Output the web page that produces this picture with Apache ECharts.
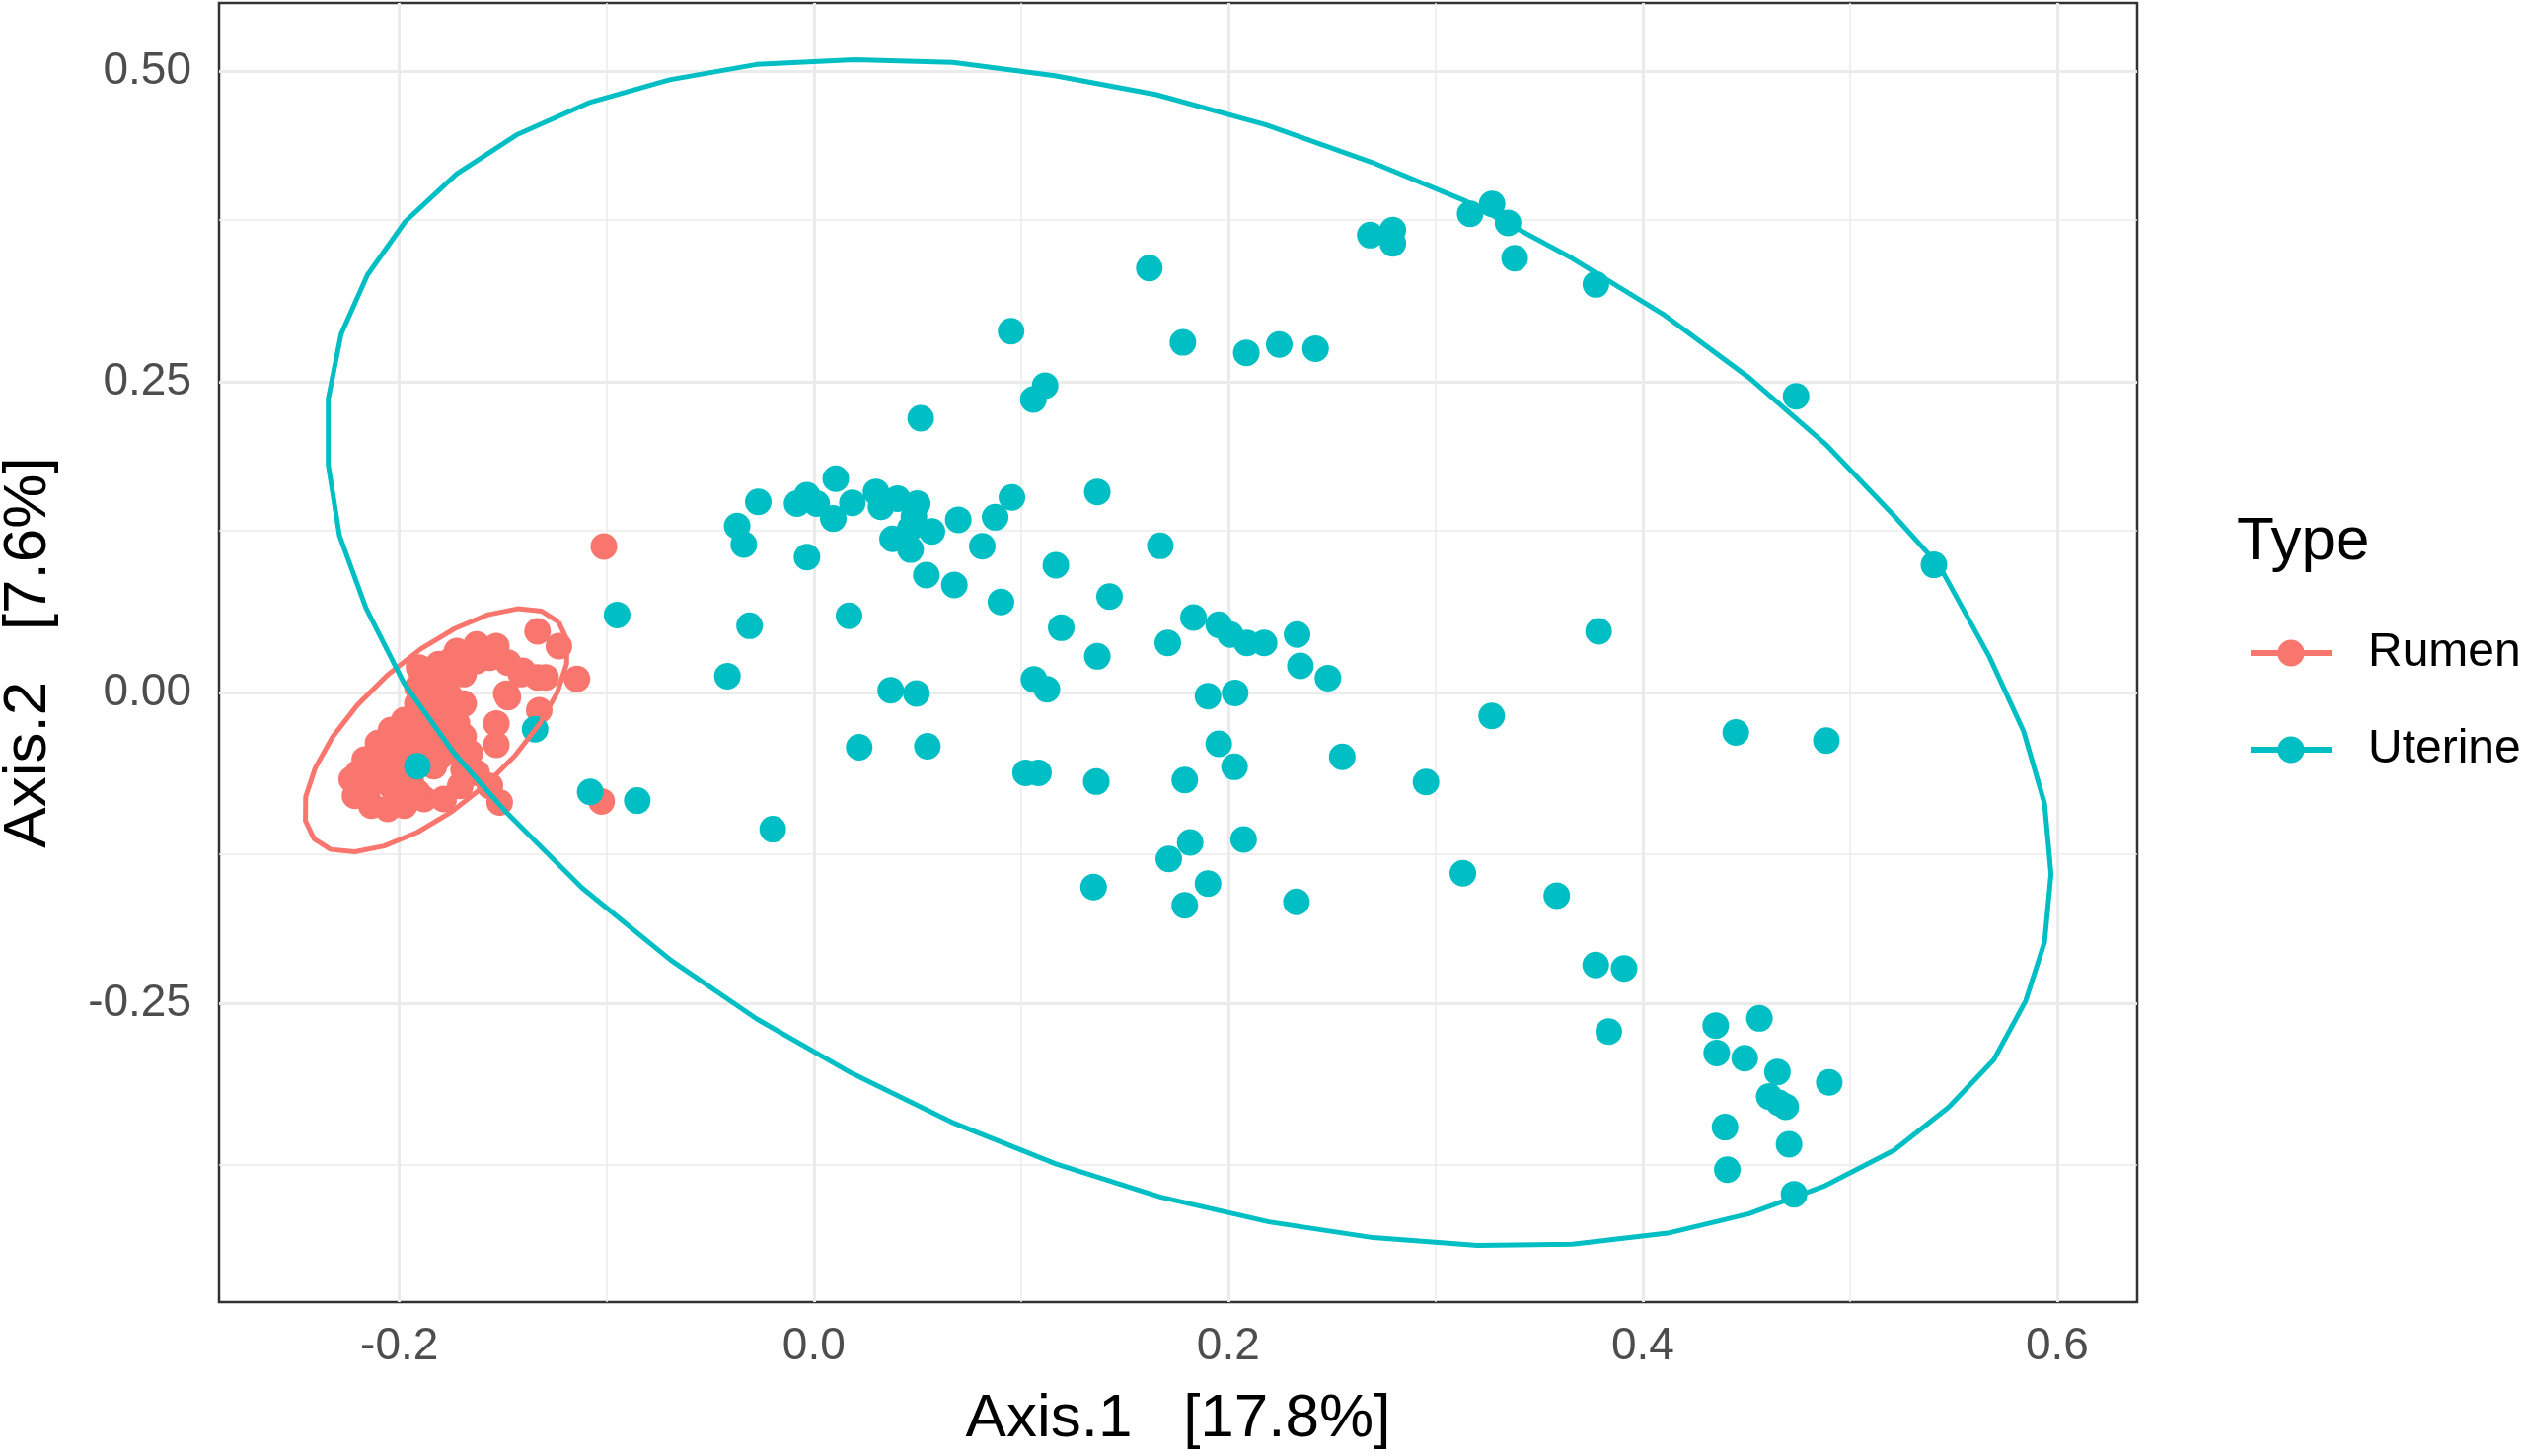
<!DOCTYPE html>
<html>
<head>
<meta charset="utf-8">
<script src="https://cdn.jsdelivr.net/npm/echarts@6/dist/echarts.min.js"></script>
<style>
  html, body { margin: 0; padding: 0; background: #fff; }
  #chart { width: 2559px; height: 1476px; }
</style>
</head>
<body>
<div id="chart"></div>
<script>
// PCoA 散点 + 置信椭圆
var groupNames = ['Rumen', 'Uterine'];
var groupColors = ['#F8766D', '#00BFC4'];

var xTicks = [-0.2, 0, 0.2, 0.4, 0.6];
var xTickLabels = ['-0.2', '0.0', '0.2', '0.4', '0.6'];
var xMinor = [-0.1, 0.1, 0.3, 0.5];
var yTicks = [-0.25, 0, 0.25, 0.5];
var yTickLabels = ['-0.25', '0.00', '0.25', '0.50'];
var yMinor = [-0.375, -0.125, 0.125, 0.375];

var rumenPoints = [
  [-0.1905, 0.0201], [-0.181, 0.0228], [-0.1722, 0.0333], [-0.1627, 0.0386], [-0.1532, 0.0373],
  [-0.1476, 0.0241], [-0.1405, 0.0175], [-0.1333, 0.0122], [-0.1484, -0.001],
  [-0.1913, 0.0042], [-0.1833, 0.0069], [-0.1754, 0.0122], [-0.169, 0.0148], [-0.1754, -0.0037],
  [-0.169, -0.009], [-0.1833, -0.009], [-0.1913, -0.009],
  [-0.1881, -0.0222], [-0.1802, -0.0222], [-0.1722, -0.0249], [-0.1976, -0.0222], [-0.1833, -0.0354],
  [-0.1738, -0.0381],
  [-0.204, -0.0302], [-0.2103, -0.0407], [-0.2167, -0.054], [-0.223, -0.0698], [-0.2214, -0.0831],
  [-0.2135, -0.091], [-0.2056, -0.0937], [-0.1976, -0.091], [-0.1881, -0.0857],
  [-0.2119, -0.0672], [-0.204, -0.0566], [-0.196, -0.0487], [-0.1881, -0.0487], [-0.1802, -0.0513],
  [-0.204, -0.0751], [-0.1944, -0.0725],
  [-0.169, -0.0619], [-0.1627, -0.0646], [-0.1563, -0.0751], [-0.1516, -0.0884], [-0.1722, -0.046],
  [-0.1786, -0.0857], [-0.1706, -0.0751],
  [-0.2198, -0.0646], [-0.2151, -0.0778], [-0.2071, -0.0646], [-0.1992, -0.0619], [-0.1992, -0.0804],
  [-0.1913, -0.0804], [-0.1833, -0.0593], [-0.1992, -0.0434], [-0.1913, -0.0381], [-0.169, -0.0354],
  [-0.1659, -0.0487], [-0.2071, -0.0487], [-0.196, -0.0302], [-0.1849, -0.0143], [-0.177, -0.0143],
  [-0.1881, 0.0122], [-0.1627, 0.0254], [-0.1563, 0.028], [-0.169, 0.028], [-0.1754, 0.0254],
  [-0.1333, 0.0492], [-0.123, 0.0373], [-0.1143, 0.0109], [-0.1294, 0.0122], [-0.1413, 0.0148],
  [-0.1476, -0.0037], [-0.1325, -0.0143], [-0.1532, -0.0249], [-0.1532, -0.0421],
  [-0.1024, -0.0876], [-0.1013, 0.1175]
];

var uterinePoints = [
  [0.0106, 0.172], [-0.0268, 0.1534], [-0.037, 0.134], [-0.0338, 0.119], [-0.0081, 0.152],
  [-0.0033, 0.1587], [0.0014, 0.152], [0.0094, 0.140], [0.0186, 0.1526], [-0.0033, 0.109],
  [0.030, 0.1614], [0.0324, 0.1494], [0.0404, 0.156], [0.0499, 0.152], [0.0483, 0.1415],
  [0.038, 0.1236], [0.0467, 0.115], [0.057, 0.1296], [0.0467, 0.1323], [0.0697, 0.139],
  [0.0875, 0.141], [0.0956, 0.157], [0.0813, 0.1177], [0.0543, 0.0944], [0.0678, 0.0865],
  [0.0903, 0.0728], [0.1168, 0.1024], [0.1368, 0.1614], [0.1427, 0.0772], [0.1194, 0.0521],
  [0.1368, 0.0291], [0.1062, 0.0106], [0.1125, 0.0026], [0.0371, 0.0018], [0.0495, -0.0008],
  [0.017, 0.0617], [-0.031, 0.0537], [-0.0417, 0.0132],
  [0.1708, 0.0399], [0.1832, 0.0603], [0.1954, 0.0545], [0.201, 0.0466], [0.209, 0.0399],
  [0.2173, 0.0399], [0.2332, 0.0466], [0.2348, 0.0214], [0.2481, 0.0116], [0.1902, -0.0029],
  [0.2033, -0.0003], [0.1954, -0.0413], [0.203, -0.0598], [0.179, -0.0704], [0.255, -0.0518],
  [0.2954, -0.072], [0.3271, -0.0188], [0.3787, 0.0492], [0.1672, 0.118],
  [0.4352, -0.268], [0.4563, -0.2622], [0.4357, -0.29], [0.4492, -0.2942], [0.465, -0.3053],
  [0.49, -0.3137], [0.461, -0.3251], [0.4657, -0.3302], [0.469, -0.3333], [0.4397, -0.3497],
  [0.4706, -0.3635], [0.4408, -0.3839], [0.473, -0.4037],
  [0.1619, 0.3415], [0.0952, 0.2907], [0.1116, 0.2468], [0.1059, 0.2357], [0.1781, 0.2817],
  [0.2087, 0.2733], [0.2246, 0.280], [0.2421, 0.2767], [0.0516, 0.2206],
  [0.2685, 0.368], [0.2794, 0.372], [0.2794, 0.3614], [0.3167, 0.3852], [0.3273, 0.3931],
  [0.335, 0.3778], [0.3382, 0.3495], [0.3774, 0.3283], [0.474, 0.2383], [0.5405, 0.1027],
  [0.1363, -0.0717], [0.1816, -0.1206], [0.1713, -0.1339], [0.2074, -0.1183], [0.135, -0.1566],
  [0.1902, -0.1537], [0.179, -0.1712], [0.2329, -0.1685], [0.3132, -0.1455], [0.3585, -0.1635],
  [0.3773, -0.2193], [0.391, -0.222], [0.3836, -0.2728], [0.1022, -0.0646], [0.1084, -0.0646],
  [0.4449, -0.0322], [0.4886, -0.0386], [-0.0198, -0.110], [-0.0852, -0.087], [-0.1079, -0.0799],
  [-0.1345, -0.0296], [-0.0949, 0.0624], [-0.1913, -0.0593], [0.0219, -0.044], [0.0548, -0.0432]
];

// 椭圆轮廓（从图上读取的顶点）
var rumenEllipse = [
  [-0.1232, 0.0569], [-0.1191, 0.0424], [-0.1193, 0.0230], [-0.1238, -0.0001], [-0.1323, -0.0252],
  [-0.1441, -0.0506], [-0.1586, -0.0748], [-0.1747, -0.0959], [-0.1913, -0.1125], [-0.2073, -0.1235],
  [-0.2215, -0.1282], [-0.2331, -0.1263], [-0.2412, -0.1177], [-0.2453, -0.1033], [-0.2452, -0.0839],
  [-0.2406, -0.0608], [-0.2322, -0.0357], [-0.2203, -0.0102], [-0.2058, 0.0139], [-0.1897, 0.0350],
  [-0.1731, 0.0516], [-0.1572, 0.0626], [-0.1429, 0.0674], [-0.1313, 0.0654], [-0.1232, 0.0569]
];

var uterineEllipse = [
  [0.0197, 0.5092], [0.0671, 0.5069], [0.1163, 0.4963], [0.1654, 0.481], [0.2183, 0.4567],
  [0.2693, 0.4266], [0.3149, 0.3952], [0.3659, 0.3494], [0.4097, 0.3045], [0.4516, 0.2529],
  [0.4881, 0.2], [0.5208, 0.1431], [0.5432, 0.1017], [0.5672, 0.0289], [0.5838, -0.0313],
  [0.5939, -0.0895], [0.597, -0.146], [0.5939, -0.2007], [0.5848, -0.2481], [0.5694, -0.2955],
  [0.5476, -0.3337], [0.5213, -0.3683], [0.4873, -0.3974], [0.4513, -0.4194], [0.412, -0.435],
  [0.3661, -0.4438], [0.3202, -0.4448], [0.2699, -0.4386], [0.2196, -0.4259], [0.1671, -0.4059],
  [0.1168, -0.3793], [0.0665, -0.3457], [0.0184, -0.3064], [-0.0275, -0.2627], [-0.069, -0.2154],
  [-0.1119, -0.1571], [-0.1486, -0.096], [-0.1738, -0.0484], [-0.1976, 0.0071], [-0.2161, 0.068],
  [-0.2289, 0.1263], [-0.2343, 0.183], [-0.2343, 0.2364], [-0.2281, 0.2883], [-0.2154, 0.3359],
  [-0.1971, 0.379], [-0.1724, 0.4172], [-0.1435, 0.4486], [-0.1086, 0.4745], [-0.0696, 0.493],
  [-0.0277, 0.5053], [0.0197, 0.5092]
];

var FONT = '"Liberation Sans", Arial, sans-serif';

function tickLabel(ticks, labels) {
    return function (value) {
        for (var i = 0; i < ticks.length; i++) {
            if (Math.abs(ticks[i] - value) < 1e-9) return labels[i];
        }
        return '';
    };
}

// 网格线（主/次）
var gridLines = [];
xTicks.forEach(function (v) { gridLines.push({ xAxis: v, lineStyle: { width: 3 } }); });
xMinor.forEach(function (v) { gridLines.push({ xAxis: v, lineStyle: { width: 1.5 } }); });
yTicks.forEach(function (v) { gridLines.push({ yAxis: v, lineStyle: { width: 3 } }); });
yMinor.forEach(function (v) { gridLines.push({ yAxis: v, lineStyle: { width: 1.5 } }); });

var chart = echarts.init(document.getElementById('chart'), null, { renderer: 'canvas' });

var option = {
    backgroundColor: '#ffffff',
    animation: false,
    textStyle: { fontFamily: FONT },
    title: {
        text: 'Type',
        left: 2262,
        top: 514,
        textStyle: { fontFamily: FONT, fontSize: 62, fontWeight: 'normal', color: '#000' }
    },
    legend: {
        data: groupNames,
        orient: 'vertical',
        left: 2273,
        top: 633,
        itemWidth: 82,
        itemHeight: 34,
        itemGap: 50,
        lineStyle: { width: 6 },
        textStyle: { fontFamily: FONT, fontSize: 48, color: '#000', padding: [0, 0, 0, 32], lineHeight: 48 }
    },
    grid: {
        left: 222,
        right: 393,
        top: 3,
        bottom: 156,
        outerBoundsMode: 'none',
        containLabel: false,
        show: true,
        borderColor: '#333333',
        borderWidth: 2.5,
        backgroundColor: 'transparent'
    },
    xAxis: {
        type: 'value',
        min: -0.287,
        max: 0.6386,
        name: 'Axis.1   [17.8%]',
        nameLocation: 'middle',
        nameGap: 88,
        nameTextStyle: { fontFamily: FONT, fontSize: 62, color: '#000' },
        axisLine: { show: false },
        axisTick: {
            show: true, length: 10, customValues: xTicks,
            lineStyle: { color: '#333333', width: 2.5 }
        },
        axisLabel: {
            customValues: xTicks,
            formatter: tickLabel(xTicks, xTickLabels),
            margin: 22,
            fontFamily: FONT, fontSize: 46, color: '#4D4D4D'
        },
        splitLine: { show: false }
    },
    yAxis: {
        type: 'value',
        min: -0.4905,
        max: 0.5548,
        name: 'Axis.2   [7.6%]',
        nameLocation: 'middle',
        nameGap: 162,
        nameTextStyle: { fontFamily: FONT, fontSize: 62, color: '#000' },
        axisLine: { show: false },
        axisTick: {
            show: true, length: 10, customValues: yTicks,
            lineStyle: { color: '#333333', width: 2.5 }
        },
        axisLabel: {
            customValues: yTicks,
            formatter: tickLabel(yTicks, yTickLabels),
            margin: 28,
            fontFamily: FONT, fontSize: 46, color: '#4D4D4D'
        },
        splitLine: { show: false }
    },
    series: [
        {
            name: groupNames[0],
            type: 'line',
            data: rumenEllipse,
            z: 4,
            showSymbol: false,
            symbol: 'circle',
            smooth: false,
            silent: true,
            itemStyle: { color: groupColors[0] },
            lineStyle: { color: groupColors[0], width: 5 }
        },
        {
            name: groupNames[1],
            type: 'line',
            data: uterineEllipse,
            z: 4,
            showSymbol: false,
            symbol: 'circle',
            smooth: false,
            silent: true,
            itemStyle: { color: groupColors[1] },
            lineStyle: { color: groupColors[1], width: 5 }
        },
        {
            name: groupNames[0],
            type: 'scatter',
            data: rumenPoints,
            z: 2,
            symbolSize: 27,
            silent: true,
            itemStyle: { color: groupColors[0], opacity: 1 },
            markLine: {
                silent: true,
                z: 1,
                symbol: ['none', 'none'],
                label: { show: false },
                lineStyle: { color: '#EBEBEB', type: 'solid' },
                emphasis: { disabled: true },
                data: gridLines
            }
        },
        {
            name: groupNames[1],
            type: 'scatter',
            data: uterinePoints,
            z: 3,
            symbolSize: 27,
            silent: true,
            itemStyle: { color: groupColors[1], opacity: 1 }
        }
    ]
};

chart.setOption(option);
</script>
</body>
</html>
